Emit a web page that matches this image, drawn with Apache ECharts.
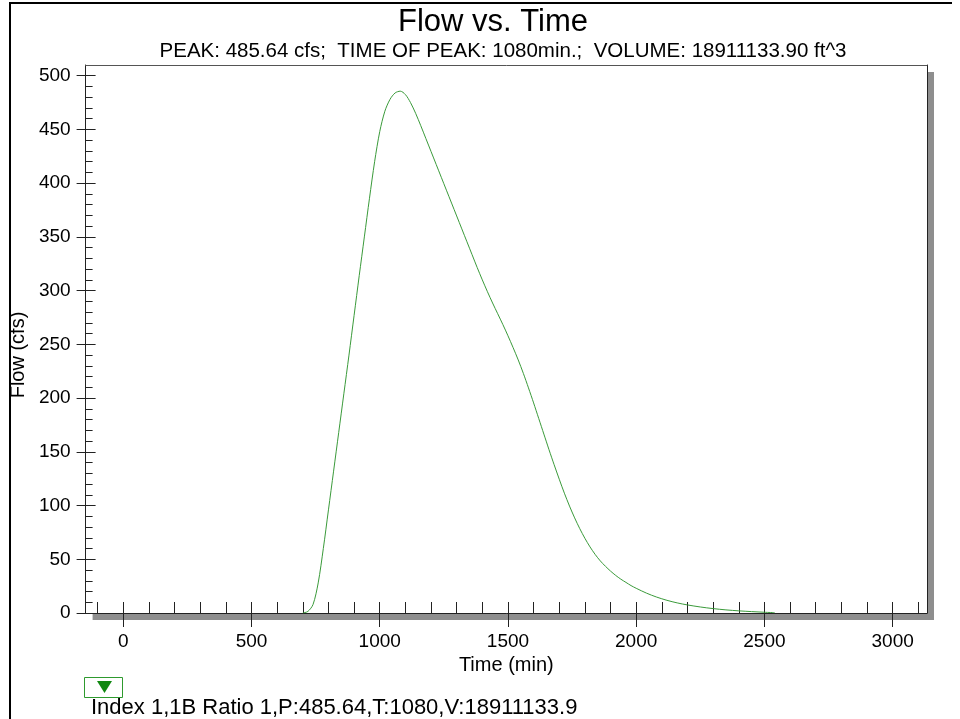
<!DOCTYPE html>
<html>
<head>
<meta charset="utf-8">
<title>Flow vs. Time</title>
<script src="https://cdn.jsdelivr.net/npm/echarts@6/dist/echarts.min.js"></script>
<style>
  html, body { margin: 0; padding: 0; background: #fff; }
  #chart { width: 960px; height: 719px; }
</style>
</head>
<body>
<div id="chart"></div>
<script>
// hydrograph (time in min, flow in cfs)
const times = [700, 720, 740, 760, 780, 800, 820, 840, 860, 880, 900, 920, 940, 960, 980, 1000,
  1020, 1040, 1060, 1080, 1100, 1120, 1140, 1160, 1180, 1200, 1220, 1240, 1260, 1280, 1300,
  1320, 1340, 1360, 1380, 1400, 1420, 1440, 1460, 1480, 1500, 1520, 1540, 1560, 1580, 1600,
  1620, 1640, 1660, 1680, 1700, 1720, 1740, 1760, 1780, 1800, 1820, 1840, 1860, 1880, 1900,
  1920, 1940, 1960, 1980, 2000, 2040, 2080, 2120, 2160, 2200, 2250, 2300, 2350, 2400, 2450,
  2500, 2540];
const flows = [0, 1.5, 8, 28, 60, 96, 132, 168, 204, 240, 277, 314, 350, 386, 420, 448,
  467, 478, 484, 485.64, 482.5, 475, 465, 453.5, 441.5, 429.5, 417.5, 405.5, 393.5, 381.5, 369.5,
  357.5, 345.5, 333.5, 321.5, 310, 299, 288.5, 278.5, 268.5, 258, 247, 235.5, 223, 209.5, 195.5,
  181, 166.5, 152, 138, 124.5, 111.5, 99.5, 88.5, 78.5, 69.5, 61.5, 54.5, 48.5, 43.5, 39,
  35, 31.5, 28.5, 25.5, 23, 18.5, 14.8, 11.8, 9.4, 7.5, 5.6, 4.1, 2.9, 2.0, 1.3,
  0.7, 0.3];

const xMajorTicks = [0, 500, 1000, 1500, 2000, 2500, 3000];
const yMajorTicks = [0, 50, 100, 150, 200, 250, 300, 350, 400, 450, 500];
const xMinorStep = 100;
const yMinorStep = 10;

const seriesName = 'Index 1,1B Ratio 1,P:485.64,T:1080,V:18911133.9';

const xRange = [-147, 3134];
const yRange = [0, 510];

const xMinorTicks = [];
for (let v = -100; v <= 3100; v += xMinorStep) xMinorTicks.push(v);
const yMinorTicks = [];
for (let v = 0; v <= 500; v += yMinorStep) yMinorTicks.push(v);

const chart = echarts.init(document.getElementById('chart'));

const font = 'Liberation Sans, Arial, sans-serif';
const lineCol = '#222';
const frameCol = '#555';

const baseX = {
  type: 'value', min: xRange[0], max: xRange[1], position: 'bottom',
  splitLine: { show: false },
  axisLine: { show: false, onZero: false },
  axisLabel: { show: false },
  axisTick: { show: false }
};
const baseY = {
  type: 'value', min: yRange[0], max: yRange[1], position: 'left',
  splitLine: { show: false },
  axisLine: { show: false, onZero: false },
  axisLabel: { show: false },
  axisTick: { show: false }
};

const option = {
  backgroundColor: '#fff',
  animation: false,
  title: [
    {
      text: 'Flow vs. Time',
      left: 493, top: 7, padding: 0,
      textAlign: 'center',
      textStyle: { fontFamily: font, fontSize: 31, fontWeight: 'normal', color: '#000' }
    },
    {
      text: 'PEAK: 485.64 cfs;  TIME OF PEAK: 1080min.;  VOLUME: 18911133.90 ft^3',
      left: 503, top: 41, padding: 0,
      textAlign: 'center',
      textStyle: { fontFamily: font, fontSize: 20.5, fontWeight: 'normal', color: '#000' }
    }
  ],
  legend: {
    left: 86, top: 697, padding: 0,
    icon: 'rect', itemWidth: 0, itemHeight: 0,
    selectedMode: false,
    data: [seriesName],
    textStyle: { fontFamily: font, fontSize: 22, color: '#000' }
  },
  grid: {
    left: 85, top: 65, right: 33, bottom: 106,
    show: true,
    backgroundColor: '#fff',
    borderWidth: 0,
    shadowColor: '#8e8e8e',
    shadowBlur: 0,
    shadowOffsetX: 7,
    shadowOffsetY: 7
  },
  xAxis: [
    Object.assign({}, baseX, {
      name: 'Time (min)', nameLocation: 'middle', nameGap: 41,
      nameTextStyle: { fontFamily: font, fontSize: 20, color: '#000' },
      axisLine: { show: true, onZero: false, lineStyle: { color: lineCol, width: 1 } },
      axisTick: { show: true, length: 14, customValues: xMajorTicks, lineStyle: { color: lineCol } },
      axisLabel: {
        show: true, margin: 19, customValues: xMajorTicks,
        fontFamily: font, fontSize: 19, color: '#000',
        formatter: v => String(v)
      }
    }),
    Object.assign({}, baseX, {
      axisTick: { show: true, inside: true, length: 11, customValues: xMinorTicks, lineStyle: { color: lineCol } }
    }),
    // top edge of the plot frame
    Object.assign({}, baseX, {
      position: 'top',
      axisLine: { show: true, onZero: false, lineStyle: { color: frameCol, width: 1 } }
    })
  ],
  yAxis: [
    Object.assign({}, baseY, {
      name: 'Flow (cfs)', nameLocation: 'middle', nameGap: 57,
      nameTextStyle: { fontFamily: font, fontSize: 20, color: '#000', padding: [0, 32, 0, 0] },
      axisLine: { show: true, onZero: false, lineStyle: { color: lineCol, width: 1 } },
      axisTick: { show: true, length: 9, customValues: yMajorTicks, lineStyle: { color: lineCol } },
      axisLabel: { show: true, margin: 15, customValues: yMajorTicks, fontFamily: font, fontSize: 19, color: '#000' }
    }),
    Object.assign({}, baseY, {
      axisTick: { show: true, inside: true, length: 10, customValues: yMajorTicks, lineStyle: { color: lineCol } }
    }),
    Object.assign({}, baseY, {
      axisTick: { show: true, inside: true, length: 7, customValues: yMinorTicks, lineStyle: { color: lineCol } }
    }),
    // right edge of the plot frame
    Object.assign({}, baseY, {
      position: 'right',
      axisLine: { show: true, onZero: false, lineStyle: { color: lineCol, width: 1 } }
    })
  ],
  series: [
    {
      name: seriesName,
      type: 'line',
      xAxisIndex: 0,
      yAxisIndex: 0,
      data: times.map((t, i) => [t, flows[i]]),
      showSymbol: false,
      smooth: 0.3,
      lineStyle: { color: '#3a9a3a', width: 1 },
      itemStyle: { color: '#3a9a3a' },
      emphasis: { disabled: true }
    }
  ],
  graphic: [
    // outer frame of the window
    { type: 'line', shape: { x1: 9, y1: 3, x2: 952, y2: 3 }, style: { stroke: '#000', lineWidth: 2 }, silent: true },
    { type: 'line', shape: { x1: 10, y1: 3, x2: 10, y2: 719 }, style: { stroke: '#000', lineWidth: 2 }, silent: true },
    // legend marker box with triangle
    { type: 'rect', shape: { x: 84.5, y: 677.5, width: 38, height: 20 }, style: { fill: '#fff', stroke: '#2e9a2e', lineWidth: 1 }, silent: true },
    { type: 'polygon', shape: { points: [[97, 681], [112, 681], [104.5, 693]] }, style: { fill: '#118811' }, silent: true }
  ]
};

chart.setOption(option);
window.addEventListener('resize', () => chart.resize());
</script>
</body>
</html>
